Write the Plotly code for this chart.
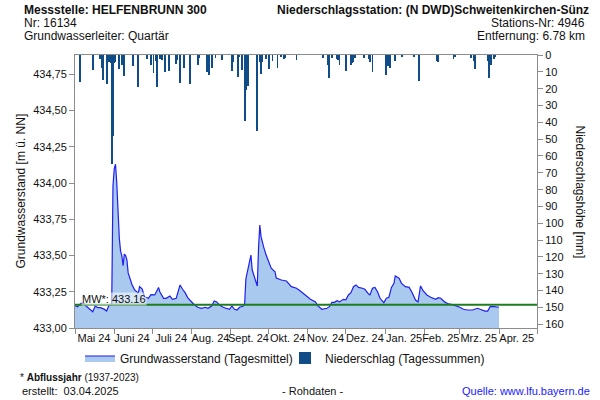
import plotly.graph_objects as go

# ---------------- data ----------------
gw_dates = [
    "2024-05-01", "2024-05-03", "2024-05-06", "2024-05-08", "2024-05-10", "2024-05-13", "2024-05-15",
    "2024-05-17", "2024-05-19", "2024-05-21", "2024-05-24", "2024-05-26", "2024-05-28", "2024-05-30",
    "2024-05-31", "2024-06-01", "2024-06-02", "2024-06-03", "2024-06-04", "2024-06-05", "2024-06-06",
    "2024-06-07", "2024-06-08", "2024-06-09", "2024-06-10", "2024-06-11", "2024-06-12", "2024-06-14",
    "2024-06-15", "2024-06-17", "2024-06-20", "2024-06-21", "2024-06-23", "2024-06-25", "2024-06-28",
    "2024-06-30", "2024-07-03", "2024-07-06", "2024-07-07", "2024-07-10", "2024-07-12", "2024-07-15",
    "2024-07-17", "2024-07-20", "2024-07-22", "2024-07-23", "2024-07-25", "2024-07-27", "2024-07-29",
    "2024-08-01", "2024-08-03", "2024-08-06", "2024-08-09", "2024-08-12", "2024-08-14", "2024-08-17",
    "2024-08-19", "2024-08-21", "2024-08-23", "2024-08-26", "2024-08-29", "2024-08-31", "2024-09-02",
    "2024-09-04", "2024-09-06", "2024-09-08", "2024-09-11", "2024-09-12", "2024-09-13", "2024-09-15",
    "2024-09-17", "2024-09-18", "2024-09-20", "2024-09-22", "2024-09-23", "2024-09-24", "2024-09-25",
    "2024-09-26", "2024-09-27", "2024-09-29", "2024-10-01", "2024-10-03", "2024-10-06", "2024-10-07",
    "2024-10-11", "2024-10-15", "2024-10-19", "2024-10-23", "2024-10-26", "2024-10-30", "2024-11-03",
    "2024-11-07", "2024-11-09", "2024-11-12", "2024-11-16", "2024-11-18", "2024-11-20", "2024-11-22",
    "2024-11-24", "2024-11-26", "2024-11-29", "2024-12-01", "2024-12-03", "2024-12-05", "2024-12-07",
    "2024-12-09", "2024-12-11", "2024-12-14", "2024-12-16", "2024-12-19", "2024-12-20", "2024-12-22",
    "2024-12-24", "2024-12-26", "2024-12-28", "2024-12-31", "2025-01-02", "2025-01-04", "2025-01-06",
    "2025-01-08", "2025-01-09", "2025-01-12", "2025-01-14", "2025-01-17", "2025-01-20", "2025-01-22",
    "2025-01-25", "2025-01-27", "2025-01-29", "2025-01-31", "2025-02-03", "2025-02-06", "2025-02-10",
    "2025-02-12", "2025-02-14", "2025-02-17", "2025-02-20", "2025-02-24", "2025-02-27", "2025-03-01",
    "2025-03-04", "2025-03-07", "2025-03-11", "2025-03-15", "2025-03-17", "2025-03-21", "2025-03-23",
    "2025-03-25", "2025-03-28", "2025-03-30", "2025-04-01",
]
gw_values = [
    433.155, 433.147, 433.172, 433.168, 433.150, 433.130, 433.112,
    433.152, 433.140, 433.140, 433.130, 433.117, 433.160, 433.160,
    433.980, 434.100, 434.130, 434.000, 433.780, 433.620, 433.530,
    433.500, 433.430, 433.510, 433.500, 433.470, 433.380, 433.320,
    433.300, 433.265, 433.240, 433.285, 433.270, 433.216, 433.205,
    433.230, 433.228, 433.280, 433.250, 433.205, 433.205, 433.220,
    433.198, 433.205, 433.267, 433.297, 433.267, 433.244, 433.210,
    433.180, 433.162, 433.143, 433.136, 433.143, 433.136, 433.152,
    433.186, 433.180, 433.160, 433.143, 433.136, 433.129, 433.152,
    433.129, 433.124, 433.143, 433.152, 433.160, 433.340, 433.434,
    433.503, 433.400, 433.343, 433.290, 433.550, 433.710, 433.630,
    433.584, 433.560, 433.503, 433.457, 433.412, 433.388, 433.345,
    433.331, 433.324, 433.285, 433.274, 433.255, 433.228, 433.198,
    433.180, 433.152, 433.129, 433.136, 433.147, 433.177, 433.177,
    433.188, 433.180, 433.198, 433.195, 433.228, 433.244, 433.285,
    433.297, 433.280, 433.274, 433.267, 433.234, 433.228, 433.274,
    433.280, 433.250, 433.205, 433.175, 433.205, 433.212, 433.280,
    433.308, 433.359, 433.343, 433.308, 433.285, 433.280, 433.250,
    433.193, 433.180, 433.290, 433.257, 433.228, 433.212, 433.198,
    433.209, 433.205, 433.180, 433.166, 433.159, 433.152, 433.143,
    433.129, 433.124, 433.124, 433.136, 433.129, 433.117, 433.117,
    433.147, 433.147, 433.143, 433.143,
]

precip_dates = [
    "2024-05-05", "2024-05-15", "2024-05-21", "2024-05-22", "2024-05-23", "2024-05-26", "2024-05-28",
    "2024-05-29", "2024-05-30", "2024-05-31", "2024-06-01", "2024-06-02", "2024-06-05", "2024-06-07",
    "2024-06-09", "2024-06-16", "2024-06-20", "2024-06-27", "2024-06-30", "2024-07-02", "2024-07-04",
    "2024-07-05", "2024-07-07", "2024-07-09", "2024-07-11", "2024-07-14", "2024-07-20", "2024-07-21",
    "2024-07-23", "2024-07-26", "2024-07-31", "2024-08-06", "2024-08-07", "2024-08-13", "2024-08-15",
    "2024-08-17", "2024-08-20", "2024-08-25", "2024-09-02", "2024-09-03", "2024-09-07", "2024-09-08",
    "2024-09-10", "2024-09-12", "2024-09-13", "2024-09-14", "2024-09-15", "2024-09-22", "2024-09-24",
    "2024-09-25", "2024-09-26", "2024-09-29", "2024-10-01", "2024-10-04", "2024-10-08", "2024-10-11",
    "2024-10-13", "2024-10-14", "2024-10-23", "2024-11-13", "2024-11-17", "2024-11-18", "2024-11-20",
    "2024-11-24", "2024-11-25", "2024-11-26", "2024-12-01", "2024-12-05", "2024-12-06", "2024-12-07",
    "2024-12-08", "2024-12-15", "2024-12-19", "2024-12-20", "2024-12-22", "2025-01-02", "2025-01-03",
    "2025-01-05", "2025-01-09", "2025-01-14", "2025-01-24", "2025-01-28", "2025-02-11", "2025-02-12",
    "2025-02-24", "2025-02-25", "2025-03-10", "2025-03-12", "2025-03-13", "2025-03-23", "2025-03-24",
    "2025-03-26", "2025-03-28", "2025-03-29",
]
precip_mm = [
    16, 9, 2.5, 7.5, 15, 17, 4,
    5, 65, 48, 5, 4, 8.5, 6,
    12.5, 6.5, 19, 2.5, 6, 10.5, 3.5,
    19, 2.5, 3, 10, 9.5, 5.5, 3,
    16.5, 8, 17, 6, 2, 10, 11.7,
    8, 2, 3, 9.7, 4, 13, 1,
    9, 39, 21, 10.5, 18.6, 45, 4,
    11, 4, 2.5, 8.5, 3.5, 7.7, 1,
    2.5, 2, 3, 2, 5.7, 13.5, 2,
    2.5, 3, 6, 9.5, 6, 5, 4,
    2, 2, 2.5, 4, 10, 12, 6.5,
    8, 3.5, 1, 1, 15.6, 3.8, 4,
    2.5, 1, 1.5, 3.8, 8.5, 3.5, 13.5,
    6, 2.5, 1,
]

mw_value = 433.16

month_starts = [
    "2024-05-01", "2024-06-01", "2024-07-01", "2024-08-01", "2024-09-01", "2024-10-01",
    "2024-11-01", "2024-12-01", "2025-01-01", "2025-02-01", "2025-03-01", "2025-04-01", "2025-05-01",
]
month_mids = [
    "2024-05-16", "2024-06-15", "2024-07-16", "2024-08-16", "2024-09-15", "2024-10-16",
    "2024-11-15", "2024-12-16", "2025-01-16", "2025-02-14", "2025-03-16", "2025-04-15",
]
month_labels = [
    "Mai 24", "Juni 24", "Juli 24", "Aug. 24", "Sept. 24", "Okt. 24",
    "Nov. 24", "Dez. 24", "Jan. 25", "Feb. 25", "Mrz. 25", "Apr. 25",
]
gw_ticks = [433.00, 433.25, 433.50, 433.75, 434.00, 434.25, 434.50, 434.75]

FONT = "Liberation Sans, Arial, sans-serif"
AXIS_GREY = "#8c8c8c"

fig = go.Figure()

fig.add_trace(go.Scatter(
    x=gw_dates, y=gw_values, mode="lines",
    line=dict(color="#1f1fee", width=1.2),
    fill="tozeroy", fillcolor="#a9c9ef",
    name="Grundwasserstand (Tagesmittel)",
    legend="legend", yaxis="y",
))

fig.add_trace(go.Bar(
    x=precip_dates, y=precip_mm,
    marker=dict(color="#0f4c88", line=dict(width=0)),
    width=86400000 * 0.7,
    name="Niederschlag (Tagessummen)",
    legend="legend2", yaxis="y2",
))

fig.add_shape(type="line", xref="paper", x0=0, x1=1, yref="y", y0=mw_value, y1=mw_value,
              line=dict(color="#1e7d1e", width=2))

fig.add_annotation(xref="paper", x=0.012, yref="y", y=mw_value, yanchor="bottom", xanchor="left",
                   text=f"MW*: {mw_value:.2f}", showarrow=False, yshift=-1,
                   font=dict(family=FONT, size=11, color="#111"),
                   bgcolor="rgba(255,255,255,0.55)", borderpad=0)

W, L, T, B = 462.0, 75.0, 55.0, 328.0
H = B - T


def px(x):
    return (x - L) / W


def py(y):
    return (B - y) / H


hdr = [
    ("<b>Messstelle: HELFENBRUNN 300</b>", 22, 10, "left"),
    ("Nr: 16134", 22, 23, "left"),
    ("Grundwasserleiter: Quartär", 22, 36, "left"),
    ("<b>Niederschlagsstation: (N DWD)Schweitenkirchen-Sünz</b>", 591, 10, "right"),
    ("Stations-Nr: 4946", 587, 23, "right"),
    ("Entfernung: 6.78 km", 587, 36, "right"),
]
for txt, x, y, anc in hdr:
    fig.add_annotation(xref="paper", yref="paper", x=px(x), y=py(y), xanchor=anc, yanchor="middle",
                       text=txt, showarrow=False, font=dict(family=FONT, size=12, color="#111"))

fig.add_annotation(xref="paper", yref="paper", x=px(20), y=0.5, textangle=-90,
                   xanchor="center", yanchor="middle",
                   text="Grundwasserstand [m ü. NN]", showarrow=False,
                   font=dict(family=FONT, size=12, color="#111"))
fig.add_annotation(xref="paper", yref="paper", x=px(580), y=0.5, textangle=90,
                   xanchor="center", yanchor="middle",
                   text="Niederschlagshöhe [mm]", showarrow=False,
                   font=dict(family=FONT, size=12, color="#111"))

foot = [
    ("* <b>Abflussjahr</b> (1937-2023)", 18, 377, "left", "#111", 10),
    ("erstellt:  03.04.2025", 20, 391, "left", "#111", 11),
    ("- Rohdaten -", 312, 391, "center", "#111", 11),
    ("Quelle: www.lfu.bayern.de", 592, 391, "right", "#1a1aff", 11),
]
for txt, x, y, anc, col, sz in foot:
    fig.add_annotation(xref="paper", yref="paper", x=px(x), y=py(y), xanchor=anc, yanchor="middle",
                       text=txt, showarrow=False, font=dict(family=FONT, size=sz, color=col))

fig.update_layout(
    width=600, height=400,
    margin=dict(l=75, r=63, t=55, b=72, autoexpand=False),
    paper_bgcolor="white", plot_bgcolor="white",
    separators=",.",
    font=dict(family=FONT, size=11, color="#111"),
    bargap=0,
    xaxis=dict(
        type="date", range=["2024-05-01", "2025-05-01"],
        tickmode="array", tickvals=month_mids, ticktext=month_labels, ticks="",
        tickangle=0, automargin=False,
        showline=True, linecolor=AXIS_GREY, linewidth=1, mirror=True,
        showgrid=False, zeroline=False,
        tickfont=dict(family=FONT, size=11, color="#111"),
        minor=dict(tickmode="array", tickvals=month_starts, ticks="outside", ticklen=5,
                   tickcolor=AXIS_GREY, showgrid=False),
    ),
    yaxis=dict(
        range=[433.0, 434.883], tickmode="array", tickvals=gw_ticks, tickformat=".2f",
        ticks="outside", ticklen=5, tickcolor=AXIS_GREY, automargin=False,
        showline=True, linecolor=AXIS_GREY, linewidth=1,
        showgrid=False, zeroline=False,
        tickfont=dict(family=FONT, size=11, color="#111"),
    ),
    yaxis2=dict(
        overlaying="y", side="right", range=[162.2, 0], dtick=10, tick0=0,
        ticks="outside", ticklen=5, tickcolor=AXIS_GREY, automargin=False,
        showline=True, linecolor=AXIS_GREY, linewidth=1,
        showgrid=False, zeroline=False,
        tickfont=dict(family=FONT, size=11, color="#111"),
    ),
    legend=dict(orientation="h", xref="container", yref="container",
                x=80 / 600, y=1 - 358 / 400, xanchor="left", yanchor="middle",
                font=dict(family=FONT, size=12, color="#111"), bgcolor="rgba(0,0,0,0)"),
    legend2=dict(orientation="h", xref="container", yref="container",
                 x=285 / 600, y=1 - 358 / 400, xanchor="left", yanchor="middle",
                 font=dict(family=FONT, size=12, color="#111"), bgcolor="rgba(0,0,0,0)"),
    showlegend=True,
)

fig.write_html("out.html")
